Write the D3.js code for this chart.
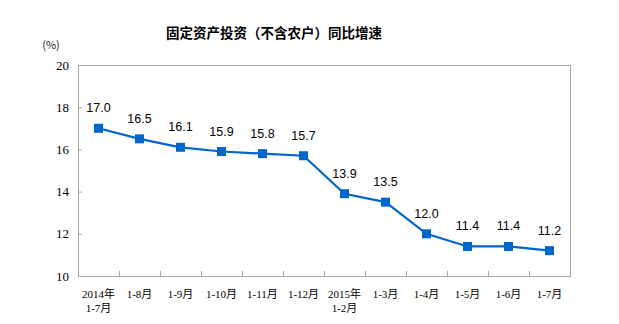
<!DOCTYPE html>
<html><head><meta charset="utf-8">
<script src="https://cdn.jsdelivr.net/npm/d3@7"></script>
<style>body{margin:0;background:#fff}</style>
</head><body><svg id="c" width="619" height="324"></svg>
<script>
const categories = [["2014年","1-7月"],["1-8月"],["1-9月"],["1-10月"],["1-11月"],["1-12月"],["2015年","1-2月"],["1-3月"],["1-4月"],["1-5月"],["1-6月"],["1-7月"]];
const values = [17.0,16.5,16.1,15.9,15.8,15.7,13.9,13.5,12.0,11.4,11.4,11.2];
const yTicks = [10,12,14,16,18,20];
const title = "固定资产投资（不含农户）同比增速";
const unit = "(%)";

const svg = d3.select("#c");
const L=78, R=570, T=65, B=276;
const idx = categories.map((d,i)=>i);
const x = d3.scaleBand().domain(idx).range([L,R]);
const y = d3.scaleLinear().domain([10,20]).range([B,T]);
const gray="#a6a6a6", blue="#0066cc";

svg.append("text").attr("x",274).attr("y",38).attr("text-anchor","middle")
  .attr("font-family","'Noto Sans CJK SC'").attr("font-size",13.5).attr("font-weight","bold").attr("fill","#000").text(title);
svg.append("text").attr("x",51).attr("y",49).attr("text-anchor","middle")
  .attr("font-family","'Noto Sans CJK SC'").attr("font-size",11).attr("fill","#222").text(unit);

// frame
svg.append("rect").attr("x",L).attr("y",T).attr("width",R-L).attr("height",B-T)
  .attr("fill","none").attr("stroke",gray).attr("stroke-width",1).attr("shape-rendering","crispEdges");

// y axis
const ya = svg.append("g").attr("transform",`translate(${L},0)`)
  .call(d3.axisLeft(y).tickValues(yTicks).tickSizeInner(-4).tickSizeOuter(0).tickPadding(9).tickFormat(d3.format("d")));
ya.select(".domain").attr("stroke",gray);
ya.selectAll(".tick line").attr("stroke",gray);
ya.selectAll("text").attr("font-family","'Liberation Serif'").attr("font-size",13).attr("fill","#000");

// x axis
const xa = svg.append("g").attr("transform",`translate(0,${B})`)
  .call(d3.axisBottom(x).tickSize(0).tickFormat(""));
xa.select(".domain").attr("stroke",gray);
const bounds = idx.slice(1);
svg.append("g").selectAll("line").data(bounds).join("line")
  .attr("x1",d=>x(d)).attr("x2",d=>x(d)).attr("y1",B).attr("y2",B-5)
  .attr("stroke",gray).attr("shape-rendering","crispEdges");
const lab = svg.append("g").selectAll("text").data(idx).join("text")
  .attr("x",d=>x(d)+x.bandwidth()/2).attr("y",298).attr("text-anchor","middle")
  .attr("font-family","'Liberation Serif','Noto Sans CJK SC'").attr("font-size",11).attr("fill","#000");
lab.each(function(d){
  const t=d3.select(this);
  categories[d].forEach((s,k)=>t.append("tspan").attr("x",x(d)+x.bandwidth()/2).attr("dy",k?14:0).text(s));
});

// line
const cx = i=>x(i)+x.bandwidth()/2;
svg.append("path").datum(values).attr("fill","none").attr("stroke",blue).attr("stroke-width",2.2)
  .attr("d",d3.line().x((d,i)=>cx(i)).y(d=>y(d)));
svg.append("g").selectAll("rect").data(values).join("rect")
  .attr("x",(d,i)=>cx(i)-4.5).attr("y",d=>y(d)-4.5).attr("width",9).attr("height",9).attr("fill",blue);
svg.append("g").selectAll("text").data(values).join("text")
  .attr("x",(d,i)=>cx(i)).attr("y",d=>y(d)-16).attr("text-anchor","middle")
  .attr("font-family","'Liberation Sans'").attr("font-size",12.5).attr("fill","#000")
  .text(d=>d.toFixed(1));
</script></body></html>
